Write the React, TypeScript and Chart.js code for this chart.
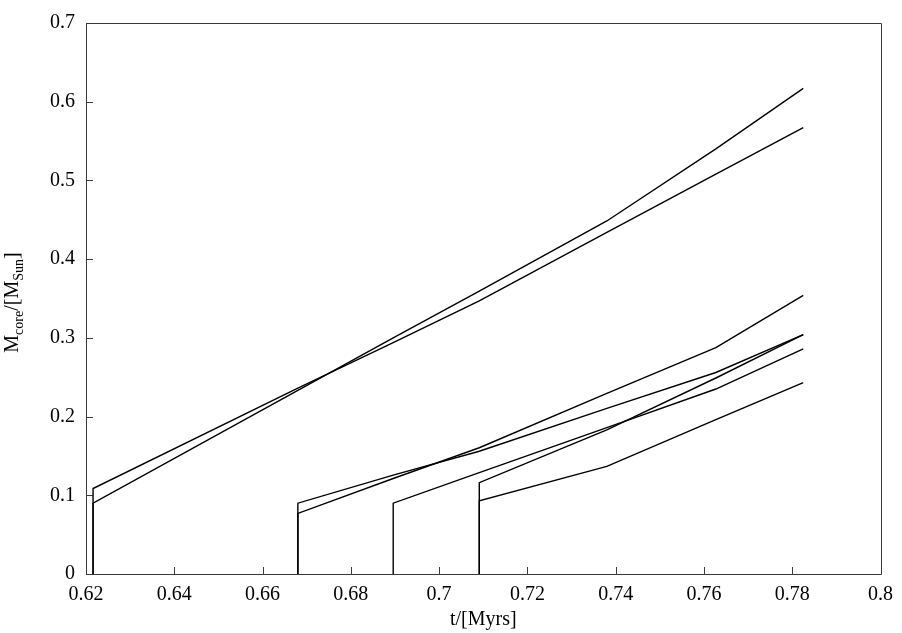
import React, { useEffect, useRef } from 'react';
import { Chart, registerables } from 'chart.js';

Chart.register(...registerables);

// sample times (Myrs)
const times = [0.6216, 0.668, 0.6896, 0.7091, 0.738, 0.7627, 0.7825];

// core masses (M_Sun); null = model not yet started
const seriesA = [0.1086, 0.236, 0.294, 0.347, 0.434, 0.508, 0.567];
const seriesB = [0.09, 0.2334, 0.3, 0.3594, 0.4485, 0.54, 0.617];
const seriesC = [null, 0.09, 0.1256, 0.156, 0.2105, 0.256, 0.304];
const seriesD = [null, 0.077, 0.1213, 0.1604, 0.2294, 0.2876, 0.354];
const seriesE = [null, null, 0.09, 0.1287, 0.186, 0.235, 0.286];
const seriesF = [null, null, null, 0.116, 0.183, 0.249, 0.304];
const seriesG = [null, null, null, 0.093, 0.1368, 0.196, 0.243];

const allSeries = [seriesA, seriesB, seriesC, seriesD, seriesE, seriesF, seriesG];

const xTicks = [0.62, 0.64, 0.66, 0.68, 0.7, 0.72, 0.74, 0.76, 0.78, 0.8];
const xTickLabels = ['0.62', '0.64', '0.66', '0.68', '0.7', '0.72', '0.74', '0.76', '0.78', '0.8'];
const yTicks = [0, 0.1, 0.2, 0.3, 0.4, 0.5, 0.6, 0.7];
const yTickLabels = ['0', '0.1', '0.2', '0.3', '0.4', '0.5', '0.6', '0.7'];

const xTitle = 't/[Myrs]';
const yTitleParts: [string, boolean][] = [
  ['M', false],
  ['core', true],
  ['/[M', false],
  ['Sun', true],
  [']', false],
];

const FONT = '"Liberation Serif", "Times New Roman", serif';
const FS = 20;
const SUB_FS = 14;

function buildPoints(values: (number | null)[]) {
  const pts: { x: number; y: number }[] = [];
  values.forEach((v, i) => {
    if (v === null) return;
    if (pts.length === 0) pts.push({ x: times[i], y: 0 });
    pts.push({ x: times[i], y: v });
  });
  return pts;
}

const framePlugin = {
  id: 'frame',
  beforeDatasetsDraw(chart: any) {
    const { ctx, chartArea: a, scales } = chart;
    ctx.save();
    ctx.strokeStyle = '#3a3a3a';
    ctx.lineWidth = 1;
    ctx.beginPath();
    ctx.rect(Math.round(a.left) + 0.5, Math.round(a.top) + 0.5, Math.round(a.right - a.left), Math.round(a.bottom - a.top));
    for (const v of xTicks) {
      const px = Math.round(scales.x.getPixelForValue(v)) + 0.5;
      ctx.moveTo(px, a.bottom);
      ctx.lineTo(px, a.bottom - 7);
    }
    for (const v of yTicks) {
      const py = Math.round(scales.y.getPixelForValue(v)) + 0.5;
      ctx.moveTo(a.left, py);
      ctx.lineTo(a.left + 7, py);
    }
    ctx.stroke();
    ctx.restore();
  },
  afterDraw(chart: any) {
    const { ctx, chartArea: a } = chart;
    ctx.save();
    ctx.fillStyle = '#000';
    // x title
    ctx.font = `${FS}px ${FONT}`;
    ctx.textAlign = 'center';
    ctx.textBaseline = 'alphabetic';
    ctx.fillText(xTitle, (a.left + a.right) / 2, 625);
    // y title with subscripts
    let total = 0;
    const widths = yTitleParts.map(([t, sub]) => {
      ctx.font = `${sub ? SUB_FS : FS}px ${FONT}`;
      const w = ctx.measureText(t).width;
      total += w;
      return w;
    });
    ctx.translate(18, (a.top + a.bottom) / 2 + 4);
    ctx.rotate(-Math.PI / 2);
    ctx.textAlign = 'left';
    let x = -total / 2;
    yTitleParts.forEach(([t, sub], i) => {
      ctx.font = `${sub ? SUB_FS : FS}px ${FONT}`;
      ctx.fillText(t, x, sub ? 5 : 0);
      x += widths[i];
    });
    ctx.restore();
  },
};

export default function App() {
  const ref = useRef<HTMLCanvasElement | null>(null);
  useEffect(() => {
    if (!ref.current) return;
    const datasets = allSeries.map((s) => ({
      data: buildPoints(s),
      showLine: true,
      borderColor: '#000',
      backgroundColor: '#000',
      borderWidth: 1.4,
      pointRadius: 0,
      tension: 0,
      fill: false,
    }));
    const chart = new Chart(ref.current, {
      type: 'scatter',
      data: { datasets },
      options: {
        animation: false,
        responsive: false,
        devicePixelRatio: 1,
        layout: { padding: { top: 11, right: 19, left: 0, bottom: 0 } },
        plugins: { legend: { display: false }, tooltip: { enabled: false } },
        scales: {
          x: {
            type: 'linear',
            min: 0.62,
            max: 0.8,
            grid: { display: false, drawTicks: false },
            border: { display: false },
            afterBuildTicks: (scale: any) => {
              scale.ticks = xTicks.map((v) => ({ value: v }));
            },
            afterFit: (scale: any) => {
              scale.height = 59;
            },
            ticks: {
              autoSkip: false,
              maxRotation: 0,
              padding: 9,
              color: '#000',
              font: { family: FONT, size: FS },
              callback: (v: any) => {
                const i = xTicks.findIndex((t) => Math.abs(t - Number(v)) < 1e-9);
                return i >= 0 ? xTickLabels[i] : '';
              },
            },
          },
          y: {
            type: 'linear',
            min: 0,
            max: 0.7,
            grid: { display: false, drawTicks: false },
            border: { display: false },
            afterBuildTicks: (scale: any) => {
              scale.ticks = yTicks.map((v) => ({ value: v }));
            },
            afterFit: (scale: any) => {
              scale.width = 86;
            },
            ticks: {
              autoSkip: false,
              padding: 11,
              color: '#000',
              font: { family: FONT, size: FS },
              callback: (v: any) => {
                const i = yTicks.findIndex((t) => Math.abs(t - Number(v)) < 1e-9);
                return i >= 0 ? yTickLabels[i] : '';
              },
            },
          },
        },
      },
      plugins: [framePlugin],
    });
    return () => chart.destroy();
  }, []);
  return (
    <div style={{ position: 'absolute', left: 0, top: 0, width: 902, height: 633, background: '#fff' }}>
      <canvas ref={ref} width={902} height={633} style={{ display: 'block', width: 902, height: 633 }} />
    </div>
  );
}
